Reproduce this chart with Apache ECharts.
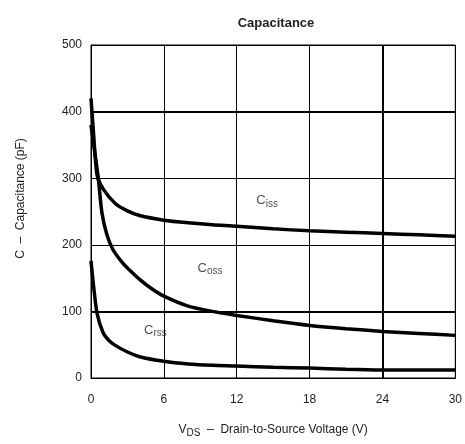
<!DOCTYPE html>
<html>
<head>
<meta charset="utf-8">
<script src="https://cdn.jsdelivr.net/npm/echarts@6.0.0/dist/echarts.min.js"></script>
<style>
  html, body { margin: 0; padding: 0; background: #fff; }
  #main { width: 465px; height: 444px; }
</style>
</head>
<body>
<div id="main"></div>
<script>
// data: [V_DS (V), C (pF)]
var ciss = [[0, 420], [0.2, 370], [0.5, 305], [1, 284], [2, 262], [3, 251], [4, 244], [6, 237],
  [8, 233], [10, 230], [12, 228], [15, 224], [18, 221], [21, 219], [24, 217], [27, 215], [30, 213]]
var coss = [[0, 380], [0.3, 340], [0.6, 300], [0.9, 248], [1.3, 216], [1.8, 193], [2.5, 175],
  [3, 165], [4, 148], [5, 134], [6, 123], [8, 108], [10, 100], [12, 94], [15, 86], [18, 79],
  [21, 74], [24, 70], [27, 67], [30, 64]]
var crss = [[0, 176], [0.2, 140], [0.5, 97], [1, 68], [1.5, 56], [2, 49], [3, 39], [4, 32],
  [6, 25], [8, 21], [10, 19], [12, 18], [15, 16], [18, 15], [21, 13], [24, 12], [27, 12], [30, 12]]
// curve names and where they are written
var curveLabels = [
  { name: "iss", value: [14.5, 266] },
  { name: "oss", value: [9.8, 165] },
  { name: "rss", value: [5.3, 72] }
]
var boldY = [400, 100]
var boldX = [24]

var chartDom = document.getElementById("main")
var myChart = echarts.init(chartDom)
var font = "Liberation Sans, Arial, sans-serif"

function curve(data) {
  return {
    type: "line",
    data: data,
    smooth: 0.25,
    showSymbol: false,
    silent: true,
    lineStyle: { color: "#000", width: 3.5 }
  }
}

var option = {
  animation: false,
  title: {
    text: "Capacitance",
    left: 271,
    top: 12,
    textAlign: "center",
    textStyle: { fontFamily: font, fontSize: 13, fontWeight: "bold", color: "#222" }
  },
  grid: {
    left: 91,
    right: 7,
    top: 45,
    bottom: 66,
    show: true,
    borderColor: "#000",
    borderWidth: 1
  },
  xAxis: {
    type: "value",
    min: 0,
    max: 30,
    interval: 6,
    name: "V{sub|DS}  –  Drain-to-Source Voltage (V)",
    nameLocation: "middle",
    nameGap: 44,
    nameTextStyle: {
      fontFamily: font,
      fontSize: 12,
      color: "#222",
      rich: {
        sub: { fontFamily: font, fontSize: 10, color: "#222", padding: [6, 0, 0, 0] }
      }
    },
    axisLine: { lineStyle: { color: "#000", width: 1 } },
    axisTick: { show: false },
    axisLabel: { fontFamily: font, fontSize: 12, color: "#222", margin: 16 },
    splitLine: { lineStyle: { color: "#000", width: 1 } }
  },
  yAxis: {
    type: "value",
    min: 0,
    max: 500,
    interval: 100,
    name: "C  –  Capacitance (pF)",
    nameLocation: "middle",
    nameGap: 64,
    nameTextStyle: { fontFamily: font, fontSize: 12, color: "#222", padding: [0, 0, 0, 26] },
    axisLine: { show: true, lineStyle: { color: "#000", width: 1 } },
    axisTick: { show: false },
    axisLabel: { fontFamily: font, fontSize: 12, color: "#222", margin: 9 },
    splitLine: { lineStyle: { color: "#000", width: 1 } }
  },
  series: [
    Object.assign(curve(ciss), {
      markLine: {
        silent: true,
        symbol: "none",
        label: { show: false },
        lineStyle: { color: "#000", width: 2, type: "solid" },
        data: boldY.map(function (v) { return { yAxis: v } })
          .concat(boldX.map(function (v) { return { xAxis: v } }))
      }
    }),
    curve(coss),
    curve(crss),
    {
      type: "scatter",
      data: curveLabels,
      symbolSize: 0,
      silent: true,
      label: {
        show: true,
        position: "inside",
        formatter: function (p) { return "C{s|" + p.name + "}" },
        fontFamily: font,
        fontSize: 13,
        color: "#222",
        rich: {
          s: { fontFamily: font, fontSize: 10, color: "#222", padding: [6, 0, 0, 0] }
        }
      }
    }
  ]
}

option && myChart.setOption(option)
window.addEventListener("resize", function () {
  myChart.resize()
})
</script>
</body>
</html>
